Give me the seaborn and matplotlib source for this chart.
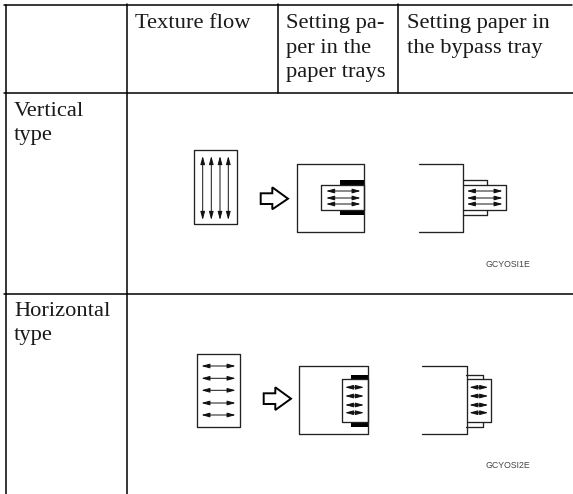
import pandas as pd
import matplotlib
matplotlib.use('Agg')
import matplotlib.pyplot as plt
from matplotlib.patches import Polygon, Rectangle
import seaborn as sns

# table text, one entry per line: text, x, baseline y
header_lines = [('Texture flow', 135, 28), ('Setting pa-', 286, 28), ('per in the', 286, 53),
                ('paper trays', 286, 77), ('Setting paper in', 407, 28), ('the bypass tray', 407, 53)]
row_lines = [('Vertical', 14, 116), ('type', 14, 140), ('Horizontal', 14, 316), ('type', 14, 340)]
code_labels = [('GCYOSI1E', 485.5, 264.7), ('GCYOSI2E', 485.5, 465)]

# table rules: x0, y0, x1, y1
table_rules = [(4, 5, 572, 5), (4, 93, 573, 93), (4, 293.5, 573, 293.5),
               (5.5, 5, 5.5, 494), (126.5, 4, 126.5, 494),
               (277.5, 4, 277.5, 93), (398, 4, 398, 93)]

# drawing outlines, as closed or open paths
outlines = [
    # vertical type
    [(193.7, 150.3), (236.7, 150.3), (236.7, 224), (193.7, 224), (193.7, 150.3)],
    [(296.7, 164.3), (364, 164.3), (364, 231.7), (296.7, 231.7), (296.7, 164.3)],
    [(321.3, 185), (364, 185), (364, 210.3), (321.3, 210.3), (321.3, 185)],
    [(419.3, 164.3), (463.3, 164.3), (463.3, 231.7), (419.3, 231.7)],
    [(463.3, 185), (506, 185), (506, 210.3), (463.3, 210.3)],
    [(463.3, 180), (487.3, 180), (487.3, 185)],
    [(463.3, 215), (487.3, 215), (487.3, 210.3)],
    # horizontal type
    [(197, 353.7), (240, 353.7), (240, 427.3), (197, 427.3), (197, 353.7)],
    [(299.3, 366), (368, 366), (368, 433.7), (299.3, 433.7), (299.3, 366)],
    [(342, 379), (368, 379), (368, 422), (342, 422), (342, 379)],
    [(422.3, 366), (466.7, 366), (466.7, 433.7), (422.3, 433.7)],
    [(466.7, 379), (491.3, 379), (491.3, 422), (466.7, 422)],
    [(466, 375), (482.7, 375), (482.7, 379)],
    [(466, 426.7), (482.7, 426.7), (482.7, 422)],
]

# double headed grain arrows: x0, y0, x1, y1
grain_x = [202.7, 211.3, 220, 228.3]
grain_y = [366, 378.3, 390.3, 403, 415]
tray_y_v = [191, 198, 204]
tray_y_h = [387.3, 396, 405, 412.7]
grain_arrows = ([(x, 156, x, 220) for x in grain_x]
                + [(201.3, y, 235.7, y) for y in grain_y]
                + [(326, y, 360.7, y) for y in tray_y_v]
                + [(466.7, y, 502.7, y) for y in tray_y_v]
                + [(345, y, 364, y) for y in tray_y_h]
                + [(469.3, y, 488.3, y) for y in tray_y_h])

# black tray guides: x, y, width, height
guides = [(340, 180, 24, 5), (340, 210.3, 24, 4.7), (351, 375, 17, 4), (351, 422, 17, 4.7)]

# hollow block arrows
block_arrows = [
    [(260.7, 193.3), (272.3, 193.3), (272.3, 187.3), (288, 198.7), (272.3, 209.3), (272.3, 204), (260.7, 204)],
    [(263.7, 393.3), (275.3, 393.3), (275.3, 387.3), (291, 398.7), (275.3, 410), (275.3, 404), (263.7, 404)],
]

sns.set_theme(style='white')
fig, ax = plt.subplots(figsize=(5.73, 4.94), dpi=100)
fig.subplots_adjust(left=0, right=1, bottom=0, top=1)

rows = []
for i, (x0, y0, x1, y1) in enumerate(table_rules):
    rows.append({'seg': i, 'order': 0, 'x': x0, 'y': y0})
    rows.append({'seg': i, 'order': 1, 'x': x1, 'y': y1})
rules_df = pd.DataFrame(rows)
sns.lineplot(data=rules_df, x='x', y='y', units='seg', estimator=None, sort=False,
             color='black', linewidth=1.1, ax=ax, legend=False)

rows = []
for i, path in enumerate(outlines):
    for j, (x, y) in enumerate(path):
        rows.append({'seg': i, 'order': j, 'x': x, 'y': y})
outline_df = pd.DataFrame(rows)
sns.lineplot(data=outline_df, x='x', y='y', units='seg', estimator=None, sort=False,
             color='#222222', linewidth=0.95, ax=ax, legend=False)

for x, y, w, h in guides:
    ax.add_patch(Rectangle((x, y), w, h, facecolor='black', edgecolor='none'))

for pts in block_arrows:
    ax.add_patch(Polygon(pts, closed=True, facecolor='white', edgecolor='black', linewidth=1.4))

for x0, y0, x1, y1 in grain_arrows:
    ax.annotate('', xy=(x1, y1), xytext=(x0, y0),
                arrowprops=dict(arrowstyle='<|-|>,head_length=0.7,head_width=0.19', mutation_scale=7,
                                color='#111111', linewidth=0.7, shrinkA=0, shrinkB=0))

for txt, x, y in header_lines + row_lines:
    ax.text(x, y, txt, family='Liberation Serif', fontsize=16.2, color='#1a1a1a', va='baseline', ha='left')
for txt, x, y in code_labels:
    ax.text(x, y, txt, family='Liberation Sans', fontsize=6.3, color='#444444', va='center', ha='left')

ax.set_xlim(0, 573)
ax.set_ylim(494, 0)
ax.set_axis_off()
fig.savefig('out.png', dpi=100)
